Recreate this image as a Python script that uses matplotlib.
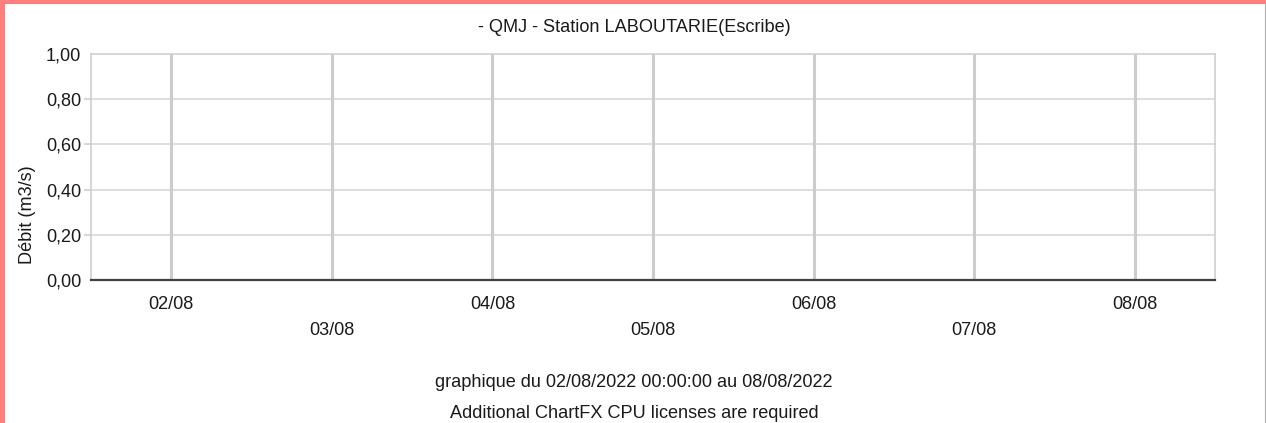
import numpy as np
import matplotlib
matplotlib.use('Agg')
import matplotlib.pyplot as plt
import matplotlib.dates as mdates
from matplotlib.patches import Rectangle
from matplotlib.lines import Line2D
from datetime import datetime

######################## chart data ########################

titleText = '- QMJ - Station LABOUTARIE(Escribe)'
yLabelText = 'Débit (m3/s)'
footerText = 'graphique du 02/08/2022 00:00:00 au 08/08/2022'
licenceText = 'Additional ChartFX CPU licenses are required'

tickDays = ['02/08', '03/08', '04/08', '05/08', '06/08', '07/08', '08/08']
yTicks = [0.0, 0.2, 0.4, 0.6, 0.8, 1.0]
yTickLabels = ['0,00', '0,20', '0,40', '0,60', '0,80', '1,00']
xStart = datetime(2022, 8, 1, 12)
xEnd = datetime(2022, 8, 8, 12)

# no measurement in the period -> empty series
debitDates = []
debitValues = []

######################## figure ########################

plt.rcParams['font.family'] = ['Liberation Sans', 'DejaVu Sans']
fontSize = 13.1
textColor = '#1a1a1a'

W, H = 1266, 423
fig = plt.figure(figsize=(W / 100, H / 100), dpi=100)
fig.patch.set_facecolor('white')

# plot area in pixels
left, right, top, bottom = 91, 1215, 54, 280
ax = fig.add_axes([left / W, 1 - bottom / H, (right - left) / W, (bottom - top) / H])

ax.plot(debitDates, debitValues, color='#1f3d99')

tickPos = [datetime(2022, 8, int(d[:2])) for d in tickDays]
ax.set_xlim(xStart, xEnd)
ax.set_ylim(0, 1)
ax.set_xticks(mdates.date2num(tickPos))
ax.set_xticklabels(tickDays, fontsize=fontSize, color=textColor)
ax.set_yticks(yTicks)
ax.set_yticklabels(yTickLabels, fontsize=fontSize, color=textColor)

ax.tick_params(axis='x', length=0)
ax.tick_params(axis='y', length=5, width=1.2, color='#d0d0d0', pad=2)
for i, tick in enumerate(ax.xaxis.get_major_ticks()):
    tick.set_pad(11.2 if i % 2 == 0 else 30.2)
yt = ax.yaxis.get_major_ticks()
yt[0].tick1line.set_visible(False)
yt[-1].tick1line.set_visible(False)

for y in yTicks[1:-1]:
    ax.axhline(y, color='#d8d8d8', lw=1.2, zorder=0)
for x in tickPos:
    ax.axvline(x, color='#cccccc', lw=2.2, zorder=0)

for s in ['left', 'top', 'right']:
    ax.spines[s].set_color('#d0d0d0')
    ax.spines[s].set_linewidth(1.2)
ax.spines['bottom'].set_color('#404040')
ax.spines['bottom'].set_linewidth(1.6)

ax.set_ylabel(yLabelText, fontsize=fontSize, color=textColor)
ax.yaxis.set_label_coords(36 / W, 1 - 215 / H, transform=fig.transFigure)

fig.text(634 / W, 1 - 27.5 / H, titleText, ha='center', va='center',
         fontsize=fontSize, color=textColor)
fig.text(634 / W, 1 - 382 / H, footerText, ha='center', va='center',
         fontsize=fontSize, color=textColor)
fig.text(634 / W, 1 - 413 / H, licenceText, ha='center', va='center',
         fontsize=fontSize, color=textColor)

# window frame
pink = '#ff7f7f'
fig.add_artist(Rectangle((0, 0), 5 / W, 1, transform=fig.transFigure,
                         facecolor=pink, edgecolor='none'))
fig.add_artist(Rectangle((0, 1 - 3 / H), 1, 3 / H, transform=fig.transFigure,
                         facecolor=pink, edgecolor='none'))
fig.add_artist(Line2D([5 / W, 1], [1 - 3.5 / H, 1 - 3.5 / H], transform=fig.transFigure,
                      color='#a0a0a0', lw=0.8))
fig.add_artist(Line2D([1 - 1 / W, 1 - 1 / W], [0, 1 - 3 / H], transform=fig.transFigure,
                      color='#b0b0b0', lw=0.8))

fig.savefig('out.png', dpi=100)
